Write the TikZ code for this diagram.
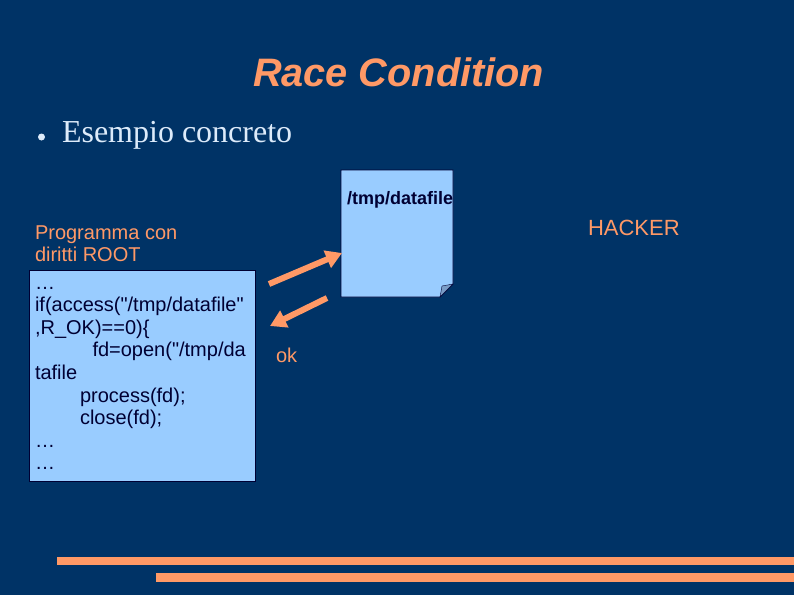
\documentclass[tikz,border=0pt]{standalone}
\usepackage{fontspec}
\setmainfont{Liberation Sans}
\newfontfamily\plainsans{Liberation Sans}
\newfontfamily\serifbody{Liberation Serif}
\usetikzlibrary{arrows.meta}
\definecolor{slidebg}{HTML}{003366}
\definecolor{accent}{HTML}{FF9966}
\definecolor{paleblue}{HTML}{99CCFF}
\definecolor{foldblue}{HTML}{7A9CC6}
\definecolor{inkdark}{HTML}{000033}
\definecolor{bodytext}{HTML}{DDEBFA}
\tikzset{
  x=1pt,y=-1pt,
  lbl/.style={inner sep=0pt,outer sep=0pt,anchor=base west},
  smalltxt/.style={lbl,text=accent,font=\fontsize{20}{22}\selectfont},
  panel/.style={draw=inkdark,line width=0.8pt,fill=paleblue},
  flow/.style={draw=accent,line width=6pt,-{Triangle[length=16pt,width=18pt]}},
}
\begin{document}
\begin{tikzpicture}
\useasboundingbox (0,0) rectangle (794,595);
\fill[slidebg] (0,0) rectangle (794,595);
\node[lbl,text=accent,font=\fontsize{39.7}{42}\selectfont\bfseries\itshape] (title) at (253,86) {Race Condition};
\fill[bodytext] (41.5,137) circle (3.5pt);
\node[lbl,text=bodytext,font=\serifbody\fontsize{32}{36}\selectfont] (body) at (62,142) {Esempio concreto};
\draw[panel] (341,170) -- (453,170) -- (453,284) -- (440,297) -- (341,297) -- cycle;
\draw[draw=inkdark,line width=0.4pt,fill=foldblue] (453,284) -- (442,286) -- (440,297) -- cycle;
\node[lbl,text=inkdark,font=\fontsize{18}{20}\selectfont\bfseries] (file) at (347,204) {/tmp/datafile};
\node[lbl,text=accent,font=\fontsize{22}{24}\selectfont] (hacker) at (588,235) {HACKER};
\node[smalltxt,align=left,anchor=north west] (prog) at (35,226) {Programma con\\diritti ROOT};
\draw[panel] (29,270) rectangle (255,481);
\node[lbl,anchor=north west,text=inkdark,align=left,font=\plainsans\fontsize{20}{22.6}\selectfont] (code) at (35,287) {\dots\\
if(access("/tmp/datafile"\\
,R\_OK)==0)\{\\
\hspace*{57.5pt}fd=open("/tmp/da\\
tafile\\
\hspace*{45pt}process(fd);\\
\hspace*{45pt}close(fd);\\
\dots\\
\dots};
\node[smalltxt] (ok) at (276,362) {ok};
\coordinate (a1) at (269,284);
\coordinate (a2) at (342,253);
\coordinate (b1) at (327,298);
\coordinate (b2) at (270,326);
\draw[flow] (a1) -- (a2);
\draw[flow] (b1) -- (b2);
\fill[accent] (57,557) rectangle (794,565);
\fill[accent] (156,573) rectangle (794,582);
\end{tikzpicture}
\end{document}
